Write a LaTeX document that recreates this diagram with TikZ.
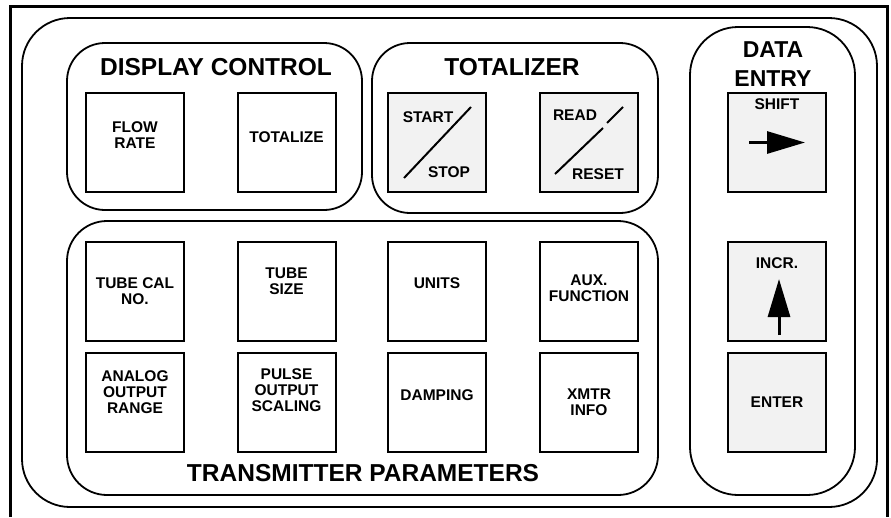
\documentclass[tikz,border=0pt]{standalone}
\usepackage{fontspec}
\setmainfont{Liberation Sans}
\usepackage{xcolor}
\usepackage{tikz}
\usetikzlibrary{arrows.meta,positioning,calc}

\definecolor{keygray}{HTML}{F2F2F2}

\begin{document}
\begin{tikzpicture}[
  x=1pt, y=-1pt,
  tombol/.style={rectangle, draw=black, line width=2pt, fill=white, minimum width=98pt, minimum height=99pt, inner sep=0pt},
  tombolabu/.style={tombol, fill=keygray},
  teks/.style={align=center, font=\fontsize{15.5}{16}\selectfont\bfseries, inner sep=0pt},
  judul/.style={align=center, font=\fontsize{24.5}{29}\selectfont\bfseries, inner sep=0pt},
  grup/.style={draw=black, line width=1.8pt},
  panah/.style={line width=3pt, -{Triangle[length=38pt, width=22pt]}}
]
  \useasboundingbox (0,0) rectangle (891,517);
  % frame and panel
  \draw[line width=3pt] (10.5,517) -- (10.5,6) -- (887,6) -- (887,517);
  \draw[grup, rounded corners=48pt] (22,18) rectangle (877,507);
  \draw[grup, rounded corners=38pt] (67,43) rectangle (362,210);
  \draw[grup, rounded corners=38pt] (372,43) rectangle (658,213);
  \draw[grup, rounded corners=40pt] (67,221) rectangle (658,495);
  \draw[grup, rounded corners=48pt] (690,27) rectangle (855,495);

  \node[judul] (tDisp) at (216,67) {DISPLAY CONTROL};
  \node[judul] (tTot) at (512,67) {TOTALIZER};
  \node[judul, font=\fontsize{23}{29}\selectfont\bfseries] (tData) at (773,64) {DATA\\ENTRY};
  \node[judul] (tXmtr) at (363,473) {TRANSMITTER PARAMETERS};

  % display control
  \node[tombol] (flow) at (135,142.5) {};
  \node[tombol] (total) at (286.5,142.5) {};
  \node[teks] at ([yshift=7.5pt]flow.center) {FLOW\\RATE};
  \node[teks] at ([yshift=5.5pt]total.center) {TOTALIZE};

  % totalizer
  \node[tombolabu] (start) at (437,142.5) {};
  \node[tombolabu] (read) at (589,142.5) {};
  \node[teks] at ([xshift=-9pt, yshift=25.5pt]start.center) {START};
  \node[teks] at ([xshift=12pt, yshift=-29.5pt]start.center) {STOP};
  \draw[line width=2pt] ([xshift=-33pt, yshift=-35.5pt]start.center) -- ([xshift=34pt, yshift=35.5pt]start.center);
  \node[teks] at ([xshift=-14pt, yshift=27.5pt]read.center) {READ};
  \node[teks] at ([xshift=9pt, yshift=-31.5pt]read.center) {RESET};
  \draw[line width=2pt] ([xshift=-34pt, yshift=-31.5pt]read.center) -- ([xshift=14pt, yshift=14.5pt]read.center);
  \draw[line width=2pt] ([xshift=18pt, yshift=19.5pt]read.center) -- ([xshift=34pt, yshift=35.5pt]read.center);

  % transmitter parameters
  \node[tombol] (tubecal) at (135,291.5) {};
  \node[tombol] (tubesize) at (286.5,291.5) {};
  \node[tombol] (units) at (437,291.5) {};
  \node[tombol] (aux) at (589,291.5) {};
  \node[tombol] (analog) at (135,402.5) {};
  \node[tombol] (pulse) at (286.5,402.5) {};
  \node[tombol] (damping) at (437,402.5) {};
  \node[tombol] (xmtr) at (589,402.5) {};
  \node[teks] at (tubecal.center) {TUBE CAL\\NO.};
  \node[teks] at ([yshift=10.5pt]tubesize.center) {TUBE\\SIZE};
  \node[teks] at ([yshift=8.5pt]units.center) {UNITS};
  \node[teks] at ([yshift=3.5pt]aux.center) {AUX.\\FUNCTION};
  \node[teks] at ([yshift=10.5pt]analog.center) {ANALOG\\OUTPUT\\RANGE};
  \node[teks] at ([yshift=12.5pt]pulse.center) {PULSE\\OUTPUT\\SCALING};
  \node[teks] at ([yshift=7.5pt]damping.center) {DAMPING};
  \node[teks] at (xmtr.center) {XMTR\\INFO};

  % data entry
  \node[tombolabu] (shift) at (777,142.5) {};
  \node[tombolabu] (incr) at (777,291.5) {};
  \node[tombolabu] (enter) at (777,402.5) {};
  \node[teks] at ([yshift=38.5pt]shift.center) {SHIFT};
  \coordinate (shiftA) at ([xshift=-28pt]shift.center);
  \coordinate (shiftB) at ([xshift=28pt]shift.center);
  \draw[panah] (shiftA) -- (shiftB);
  \node[teks] at ([yshift=28.5pt]incr.center) {INCR.};
  \coordinate (incrA) at ([xshift=2pt, yshift=-43.5pt]incr.center);
  \coordinate (incrB) at ([xshift=2pt, yshift=12.5pt]incr.center);
  \draw[panah] (incrA) -- (incrB);
  \node[teks] at (enter.center) {ENTER};
\end{tikzpicture}
\end{document}
